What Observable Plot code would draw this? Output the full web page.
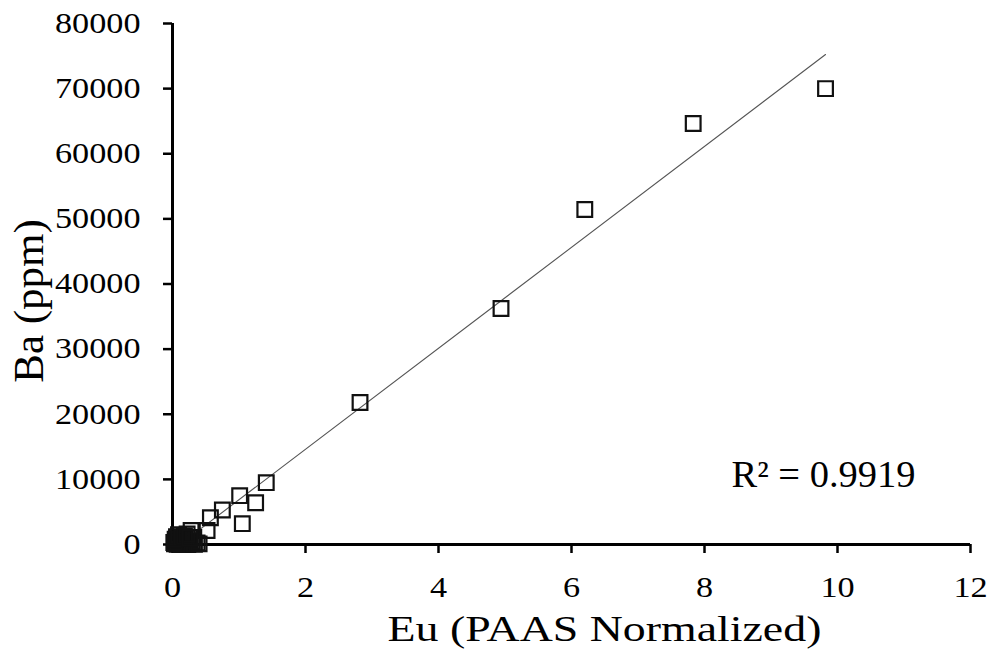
<!DOCTYPE html>
<html>
<head>
<meta charset="utf-8">
<script src="https://cdn.jsdelivr.net/npm/d3@7"></script>
<script src="https://cdn.jsdelivr.net/npm/@observablehq/plot@0.6"></script>
<style>
  html, body { margin: 0; padding: 0; background: white; }
</style>
</head>
<body>
<script>
// Eu (PAAS normalized) and Ba (ppm)
const euValues = [9.82, 7.83, 6.20, 4.94, 2.82, 1.41, 1.01, 1.25, 0.75, 1.05, 0.57, 0.52, 0.28, 0.32,
  0.03, 0.05, 0.07, 0.08, 0.10, 0.12, 0.13, 0.15, 0.17, 0.19, 0.21, 0.23, 0.25, 0.27, 0.30, 0.33, 0.37, 0.40,
  0.02, 0.04, 0.06, 0.09, 0.14, 0.18, 0.22, 0.26];
const baValues = [70000, 64650, 51440, 36240, 21800, 9500, 7500, 6400, 5300, 3200, 4100, 2150, 2150, 1100,
  100, 400, 50, 700, 250, 900, 0, 500, 150, 800, 350, 0, 600, 200, 450, 50, 250, 100,
  300, 800, 1200, 1500, 1100, 1300, 1600, 1000];
const xTicks = [0, 2, 4, 6, 8, 10, 12];
const yTicks = [0, 10000, 20000, 30000, 40000, 50000, 60000, 70000, 80000];
const xTitle = "Eu (PAAS Normalized)";
const yTitle = "Ba (ppm)";
const r2Label = "R² = 0.9919";
const r2Position = {x: 9.79, y: 10600};

const data = euValues.map((eu, i) => ({eu, ba: baValues[i]}));

const plot = Plot.plot({
  width: 992,
  height: 650,
  marginLeft: 172,
  marginRight: 22,
  marginTop: 23,
  marginBottom: 106,
  style: {fontFamily: "'Liberation Serif', 'Times New Roman', serif", color: "black", background: "white"},
  x: {domain: [0, 12]},
  y: {domain: [0, 80000]},
  marks: [
    Plot.axisX({ticks: xTicks, tickSize: 9, tickPadding: 23, fontSize: 29, strokeWidth: 2.5, label: null, tickFormat: d => String(d)}),
    Plot.axisY({ticks: yTicks, tickSize: 9, tickPadding: 23, fontSize: 29, strokeWidth: 2.5, label: null, tickFormat: d => String(d)}),
    Plot.ruleY([0], {stroke: "black", strokeWidth: 3}),
    Plot.ruleX([0], {stroke: "black", strokeWidth: 3}),
    Plot.linearRegressionY(data, {x: "eu", y: "ba", ci: 0, stroke: "#555", strokeWidth: 1.1}),
    Plot.dot(data, {x: "eu", y: "ba", symbol: "square", r: 8.3, stroke: "#111", strokeWidth: 2.2, fill: "none"}),
    Plot.text([r2Label], {x: () => r2Position.x, y: () => r2Position.y, text: d => d, fontSize: 37, textAnchor: "middle", lineAnchor: "middle", fill: "black"}),
    Plot.text([xTitle], {frameAnchor: "bottom", text: d => d, dx: 33, dy: 85, fontSize: 35, textAnchor: "middle", lineAnchor: "middle", fill: "black"}),
    Plot.text([yTitle], {frameAnchor: "left", text: d => d, dx: -143, dy: 17, rotate: -90, fontSize: 43, textAnchor: "middle", lineAnchor: "middle", fill: "black"})
  ]
});

document.body.append(plot);

// the reference's lettering is horizontally wider than the font's natural proportions
function stretch(nodes, factor) {
  nodes.forEach(el => {
    const L = el.getComputedTextLength();
    if (L > 0) {
      el.setAttribute("textLength", (L * factor).toFixed(1));
      el.setAttribute("lengthAdjust", "spacingAndGlyphs");
    }
  });
}
stretch(plot.querySelectorAll('g[aria-label="x-axis tick label"] text'), 1.18);
stretch(plot.querySelectorAll('g[aria-label="y-axis tick label"] text'), 1.18);
const textGroups = plot.querySelectorAll('g[aria-label="text"]');
if (textGroups[0]) stretch(textGroups[0].querySelectorAll("text"), 1.04);
if (textGroups[1]) stretch(textGroups[1].querySelectorAll("text"), 1.31);
</script>
</body>
</html>
